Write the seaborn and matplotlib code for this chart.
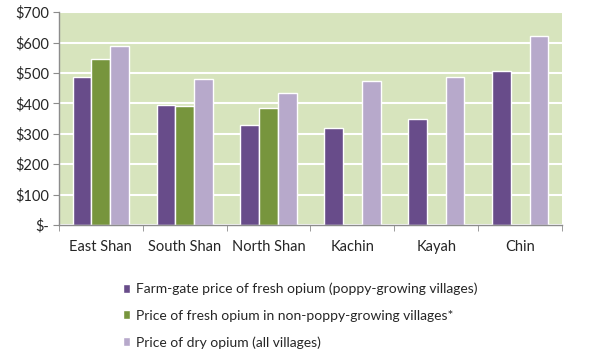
import matplotlib.pyplot as plt
import seaborn as sns
import pandas as pd
import numpy as np
from matplotlib.patches import Patch

regions = ['East Shan', 'South Shan', 'North Shan', 'Kachin', 'Kayah', 'Chin']
farm_gate = [486, 394, 329, 319, 347, 505]
non_poppy = [547, 390, 386, np.nan, np.nan, np.nan]
dry_opium = [587, 480, 434, 474, 485, 623]
series_names = ['Farm-gate price of fresh opium (poppy-growing villages)',
                'Price of fresh opium in non-poppy-growing villages*',
                'Price of dry opium (all villages)']
colors = ['#684C8A', '#77953D', '#B7A9CB']

df = pd.DataFrame({'region': regions * 3,
                   'series': np.repeat(series_names, len(regions)),
                   'price': farm_gate + non_poppy + dry_opium})

sns.set_style('white')
plt.rcParams['font.family'] = ['Lato', 'DejaVu Sans']

fig = plt.figure(figsize=(6, 3.56), dpi=100)
ax = fig.add_axes([0.098, 0.368, 0.839, 0.598])
sns.barplot(data=df, x='region', y='price', hue='series', palette=colors,
            width=0.67, saturation=1, ax=ax, legend=False)

ax.set_facecolor('#D7E4BD')
ax.set_ylim(0, 700)
ax.set_xlim(-0.5, 5.5)
ax.set_yticks(range(0, 701, 100))
ax.set_yticklabels(['$-'] + ['$%d' % v for v in range(100, 701, 100)])
ax.yaxis.grid(True, color='white', linewidth=1.5)
ax.set_axisbelow(True)
ax.set_xlabel('')
ax.set_ylabel('')

for s in ['top', 'right']:
    ax.spines[s].set_visible(False)
for s in ['left', 'bottom']:
    ax.spines[s].set_color('#8C8C8C')
    ax.spines[s].set_linewidth(1)

ax.tick_params(axis='y', length=4, color='#8C8C8C', labelsize=10.5, pad=3, left=True)
ax.tick_params(axis='x', length=0, labelsize=10.5, pad=11)
ax.set_xticks(np.arange(-0.5, 6, 1), minor=True)
ax.tick_params(axis='x', which='minor', length=4, color='#8C8C8C', bottom=True, direction='out')

handles = [Patch(facecolor=c, label=n) for c, n in zip(colors, series_names)]
fig.legend(handles=handles, loc='upper left', bbox_to_anchor=(0.195, 0.222),
           frameon=False, fontsize=10, handlelength=0.55, handleheight=0.6,
           handletextpad=0.45, labelspacing=1.05, borderaxespad=0)

fig.savefig('out.png', dpi=100)
